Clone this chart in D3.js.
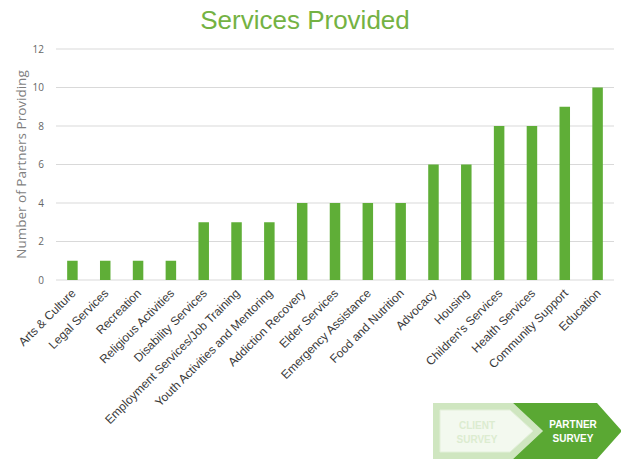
<!DOCTYPE html>
<html>
<head>
<meta charset="utf-8">
<script src="https://cdn.jsdelivr.net/npm/d3@7/dist/d3.min.js"></script>
<style>
  html, body { margin: 0; padding: 0; background: #fff; }
  svg { display: block; font-family: "Liberation Sans", Arial, sans-serif; }
</style>
</head>
<body>
<svg id="chart" width="621" height="464"></svg>
<script>
// Services offered by partner organisations, sorted ascending
const categories = [
  "Arts & Culture", "Legal Services", "Recreation", "Religious Activities",
  "Disability Services", "Employment Services/Job Training",
  "Youth Activities and Mentoring", "Addiction Recovery", "Elder Services",
  "Emergency Assistance", "Food and Nutrition", "Advocacy", "Housing",
  "Children's Services", "Health Services", "Community Support", "Education"
];
const partners = [1, 1, 1, 1, 3, 3, 3, 4, 4, 4, 4, 6, 6, 8, 8, 9, 10];
const yTicks = [0, 2, 4, 6, 8, 10, 12];

const svg = d3.select("#chart");
const margin = { left: 56, right: 7, top: 49, bottom: 184 };
const W = 621, H = 464;

const x = d3.scaleBand()
  .domain(categories)
  .range([margin.left, W - margin.right])
  .paddingInner(0.68)
  .paddingOuter(0.34);

const y = d3.scaleLinear()
  .domain([0, 12])
  .range([H - margin.bottom, margin.top]);

// Title
svg.append("text")
  .attr("x", 305).attr("y", 29)
  .attr("text-anchor", "middle")
  .attr("font-size", 26)
  .attr("fill", "#74b243")
  .text("Services Provided");

// Gridlines
svg.append("g")
  .selectAll("line")
  .data(yTicks)
  .join("line")
  .attr("x1", margin.left).attr("x2", W - margin.right)
  .attr("y1", d => y(d)).attr("y2", d => y(d))
  .attr("stroke", "#d9d9d9")
  .attr("stroke-width", 1);

// Y axis labels
const yAxis = svg.append("g")
  .attr("transform", `translate(${margin.left},0)`)
  .call(d3.axisLeft(y).tickValues(yTicks).tickSize(0).tickPadding(12));
yAxis.select(".domain").remove();
yAxis.selectAll("text")
  .attr("font-family", "'Open Sans', 'Liberation Sans', sans-serif")
  .attr("font-size", 10)
  .attr("fill", "#666666");

// Y axis title
svg.append("text")
  .attr("transform", `translate(26,${y(6)}) rotate(-90)`)
  .attr("text-anchor", "middle")
  .attr("font-family", "'Open Sans', 'Liberation Sans', sans-serif")
  .attr("font-size", 13.5)
  .attr("fill", "#7f7f7f")
  .text("Number of Partners Providing");

// Bars
svg.append("g")
  .selectAll("rect")
  .data(categories.map((c, i) => ({ c, v: partners[i] })))
  .join("rect")
  .attr("x", d => x(d.c))
  .attr("width", x.bandwidth())
  .attr("y", d => y(d.v))
  .attr("height", d => y(0) - y(d.v))
  .attr("fill", "#5fae37");

// X axis labels, rotated
const xAxis = svg.append("g")
  .attr("transform", `translate(0,${y(0)})`)
  .call(d3.axisBottom(x).tickSize(0).tickPadding(0));
xAxis.select(".domain").remove();
xAxis.selectAll("text")
  .attr("font-size", 12)
  .attr("fill", "#3a3a3a")
  .attr("text-anchor", "end")
  .attr("dy", 0)
  .attr("transform", "translate(4,14) rotate(-45)");

// Survey navigation badge
const badge = svg.append("g");
badge.append("polygon")
  .attr("points", "433,403 513,403 543,431 513,459 433,459")
  .attr("fill", "#cfe6c0");
badge.append("polygon")
  .attr("points", "440,410 510,410 533,431 510,452 440,452")
  .attr("fill", "#f3f9ef")
  .attr("stroke", "#e3f0da")
  .attr("stroke-width", 1);
badge.append("polygon")
  .attr("points", "513,403 597,403 622,431 597,459 513,459 543,431")
  .attr("fill", "#5aa833");
badge.append("text")
  .attr("x", 477).attr("y", 429)
  .attr("text-anchor", "middle")
  .attr("font-size", 10).attr("font-weight", "bold")
  .attr("fill", "#dcecd0")
  .text("CLIENT");
badge.append("text")
  .attr("x", 477).attr("y", 443)
  .attr("text-anchor", "middle")
  .attr("font-size", 10).attr("font-weight", "bold")
  .attr("fill", "#dcecd0")
  .text("SURVEY");
badge.append("text")
  .attr("x", 573).attr("y", 428)
  .attr("text-anchor", "middle")
  .attr("font-size", 10).attr("font-weight", "bold")
  .attr("fill", "#ffffff")
  .text("PARTNER");
badge.append("text")
  .attr("x", 573).attr("y", 442)
  .attr("text-anchor", "middle")
  .attr("font-size", 10).attr("font-weight", "bold")
  .attr("fill", "#ffffff")
  .text("SURVEY");
</script>
</body>
</html>
